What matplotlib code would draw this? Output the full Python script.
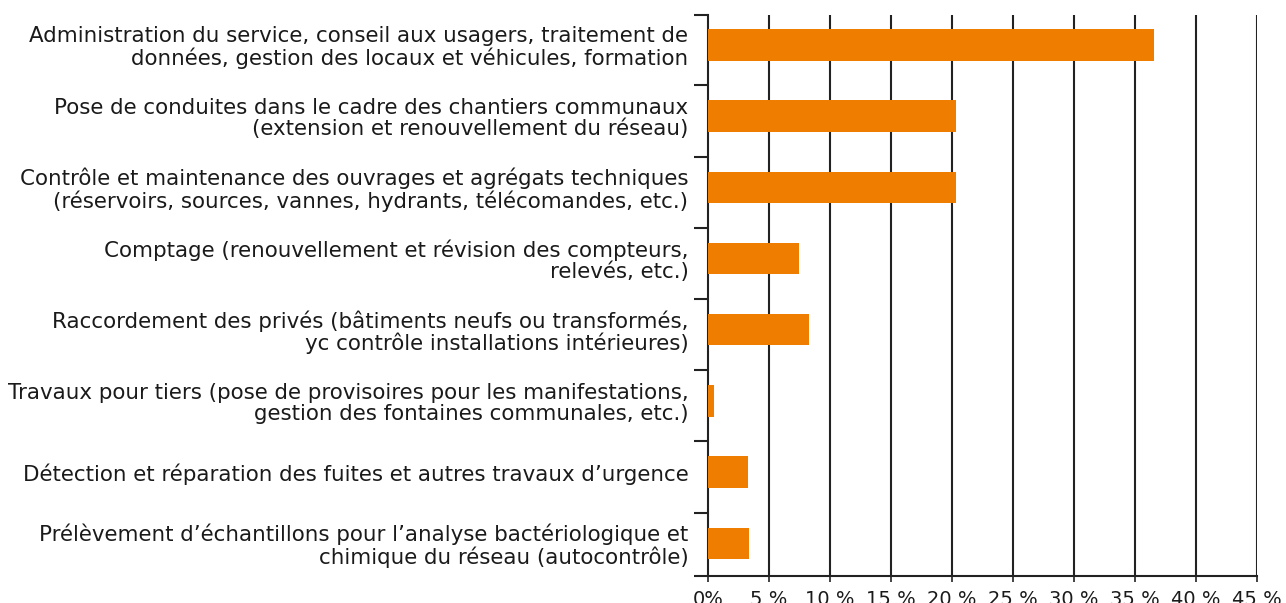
import matplotlib
matplotlib.use("Agg")
import matplotlib.pyplot as plt
import numpy as np

categories = [
    "Administration du service, conseil aux usagers, traitement de\ndonnées, gestion des locaux et véhicules, formation",
    "Pose de conduites dans le cadre des chantiers communaux\n(extension et renouvellement du réseau)",
    "Contrôle et maintenance des ouvrages et agrégats techniques\n(réservoirs, sources, vannes, hydrants, télécomandes, etc.)",
    "Comptage (renouvellement et révision des compteurs,\nrelevés, etc.)",
    "Raccordement des privés (bâtiments neufs ou transformés,\nyc contrôle installations intérieures)",
    "Travaux pour tiers (pose de provisoires pour les manifestations,\ngestion des fontaines communales, etc.)",
    "Détection et réparation des fuites et autres travaux d\u2019urgence",
    "Prélèvement d\u2019échantillons pour l\u2019analyse bactériologique et\nchimique du réseau (autocontrôle)",
]
values = [36.6, 20.3, 20.3, 7.5, 8.3, 0.5, 3.3, 3.4]
xticks = [0, 5, 10, 15, 20, 25, 30, 35, 40, 45]
xticklabels = ["0%", "5 %", "10 %", "15 %", "20 %", "25 %", "30 %", "35 %", "40 %", "45 %"]

plt.rcParams["font.family"] = ["DejaVu Sans"]
text_color = "#1a1a1a"

fig = plt.figure(figsize=(12.86, 6.03), dpi=100)
ax = fig.add_axes([0.5505, 0.0448, 0.4269, 0.9303])

y = np.arange(len(categories))
ax.barh(y, values, height=0.44, color="#ef7d00", zorder=3)

ax.set_xlim(0, 45)
ax.set_ylim(7.46, -0.42)

ax.set_xticks(xticks)
ax.set_xticklabels(xticklabels, fontsize=14, color=text_color)
ax.tick_params(axis="x", length=4, width=1.2, color="#222222", pad=6)
for x in xticks[1:]:
    ax.axvline(x, color="#222222", lw=1.5, zorder=2)

# category labels on the bars, boundary ticks on the axis
ax.set_yticks(y)
ax.set_yticklabels(categories, fontsize=15.4, color=text_color, ha="right",
                   linespacing=1.06)
ax.tick_params(axis="y", which="major", length=0, pad=14)
ax.set_yticks([-0.42] + [i + 0.57 for i in range(7)] + [7.46], minor=True)
ax.tick_params(axis="y", which="minor", length=10, width=1.5, color="#222222")

for side in ["top", "right"]:
    ax.spines[side].set_visible(False)
for side in ["left", "bottom"]:
    ax.spines[side].set_linewidth(1.5)
    ax.spines[side].set_color("#222222")

fig.savefig("out.png", dpi=100)
